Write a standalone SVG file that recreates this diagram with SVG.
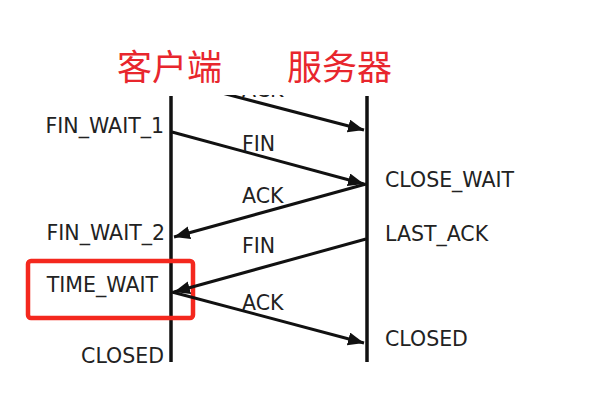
<svg xmlns="http://www.w3.org/2000/svg" width="616" height="415" viewBox="0 0 616 415">
<style>
.st{font-family:"DejaVu Sans",sans-serif;font-size:20.5px;fill:#222}
.lb{font-family:"DejaVu Sans",sans-serif;font-size:20.5px;fill:#222}
.cn{font-family:"Noto Sans CJK SC",sans-serif;font-size:35px;fill:#e8262d}
.life{stroke:#111;stroke-width:3.5;fill:none}
.msg{stroke:#111;stroke-width:3;fill:none;marker-end:url(#ah)}
</style>
<defs>
<marker id="ah" markerUnits="userSpaceOnUse" markerWidth="18" markerHeight="14" refX="16" refY="6.5" orient="auto">
<path d="M0,0 L16,6.5 L0,13 z" fill="#111"/>
</marker>
<clipPath id="clipTop"><rect x="0" y="95" width="616" height="320"/></clipPath>
</defs>
<rect width="616" height="415" fill="#fff"/>
<g id="titles">
<text class="cn" x="117" y="80">客户端</text>
<text class="cn" x="287" y="80">服务器</text>
</g>
<g id="client">
<line class="life" x1="171" y1="96" x2="171" y2="362"/>
<text class="st" x="164" y="133" text-anchor="end">FIN_WAIT_1</text>
<text class="st" x="165" y="240" text-anchor="end">FIN_WAIT_2</text>
<text class="st" x="158" y="292" text-anchor="end">TIME_WAIT</text>
<text class="st" x="164" y="363" text-anchor="end">CLOSED</text>
</g>
<g id="server">
<line class="life" x1="367" y1="96" x2="367" y2="362"/>
<text class="st" x="385" y="187">CLOSE_WAIT</text>
<text class="st" x="385" y="241">LAST_ACK</text>
<text class="st" x="385" y="346">CLOSED</text>
</g>
<g id="highlight">
<rect x="28" y="261" width="165" height="57" rx="3" fill="none" stroke="#f4281e" stroke-width="4.5"/>
</g>
<g id="connectors">
<g clip-path="url(#clipTop)">
<line class="msg" x1="172" y1="80" x2="364" y2="130"/>
<text class="lb" x="242" y="97">ACK</text>
</g>
<line class="msg" x1="172" y1="132" x2="364" y2="184"/>
<text class="lb" x="242" y="151">FIN</text>
<line class="msg" x1="366" y1="184" x2="174" y2="237"/>
<text class="lb" x="242" y="203">ACK</text>
<line class="msg" x1="366" y1="239" x2="174" y2="292"/>
<text class="lb" x="242" y="253">FIN</text>
<line class="msg" x1="172" y1="292" x2="364" y2="343"/>
<text class="lb" x="242" y="310">ACK</text>
</g>
</svg>
